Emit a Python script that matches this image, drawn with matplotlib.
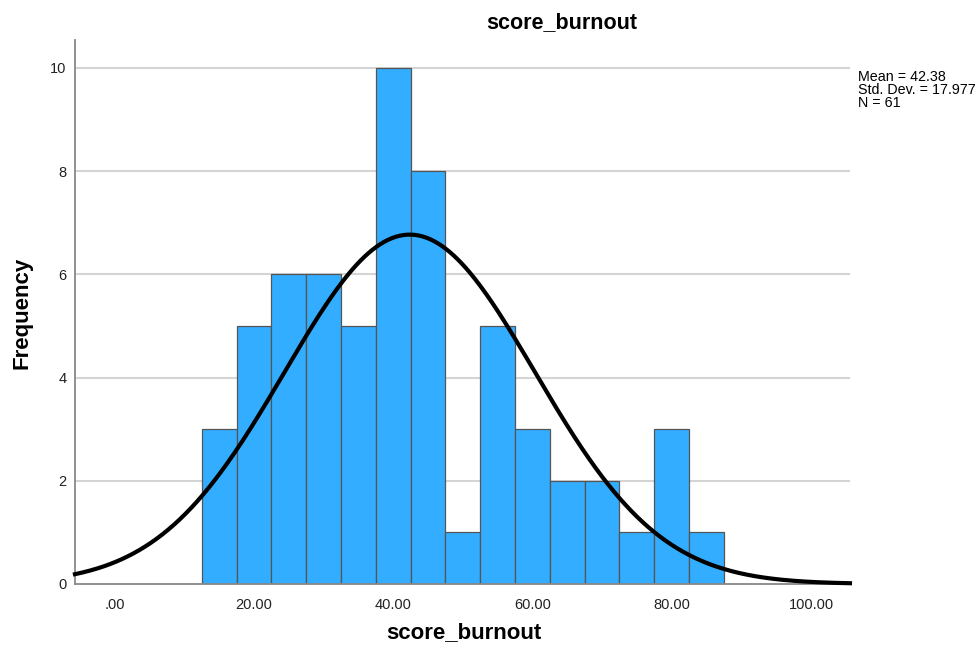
import numpy as np
import matplotlib
matplotlib.use("Agg")
import matplotlib.pyplot as plt

plt.rcParams['font.family'] = ['Liberation Sans', 'DejaVu Sans']

# bins of width 5 starting at 12.5
bin_edges = [12.5, 17.5, 22.5, 27.5, 32.5, 37.5, 42.5, 47.5, 52.5,
             57.5, 62.5, 67.5, 72.5, 77.5, 82.5, 87.5]
counts = [3, 5, 6, 6, 5, 10, 8, 1, 5, 3, 2, 2, 1, 3, 1]
mean = 42.38
sd = 17.977
n = 61
xticks = [0, 20, 40, 60, 80, 100]
xtick_labels = ['.00', '20.00', '40.00', '60.00', '80.00', '100.00']
yticks = [0, 2, 4, 6, 8, 10]

fig = plt.figure(figsize=(9.8, 6.51), dpi=100)
ax = fig.add_axes([0.0765, 0.103, 0.7908, 0.8356])

ax.set_xlim(-5.7, 105.6)
ax.set_ylim(0, 10.54)

# grid lines
for y in yticks[1:]:
    ax.axhline(y, color='#d4d4d4', lw=1.5, zorder=0)

lefts = np.array(bin_edges[:-1])
widths = np.diff(bin_edges)
ax.bar(lefts, counts, width=widths, align='edge', color='#33adff',
       edgecolor='#555555', linewidth=0.9, zorder=2)

# normal curve
xs = np.linspace(-5.7, 105.6, 400)
ys = n * 5 * np.exp(-0.5 * ((xs - mean) / sd) ** 2) / (sd * np.sqrt(2 * np.pi))
ax.plot(xs, ys, color='black', lw=3, zorder=3, clip_on=False)

ax.set_xticks(xticks)
ax.set_xticklabels(xtick_labels)
ax.set_yticks(yticks)
ax.tick_params(length=0, labelsize=10.5, colors='#222222')
ax.tick_params(axis='x', pad=10)
ax.tick_params(axis='y', pad=6)

for s in ['top', 'right']:
    ax.spines[s].set_visible(False)
for s in ['left', 'bottom']:
    ax.spines[s].set_color('#888888')
    ax.spines[s].set_linewidth(1.3)

fig.text(0.573, 0.966, 'score_burnout', ha='center', va='center',
         fontsize=15.5, fontweight='bold')
fig.text(0.473, 0.012, 'score_burnout', ha='center', va='bottom',
         fontsize=16, fontweight='bold')
fig.text(0.022, 0.52, 'Frequency', ha='center', va='center',
         rotation=90, fontsize=16, fontweight='bold')
fig.text(0.876, 0.892, 'Mean = %.2f\nStd. Dev. = %.3f\nN = %d' % (mean, sd, n),
         ha='left', va='top', fontsize=10.3, linespacing=0.88)

fig.savefig('out.png', dpi=100)
